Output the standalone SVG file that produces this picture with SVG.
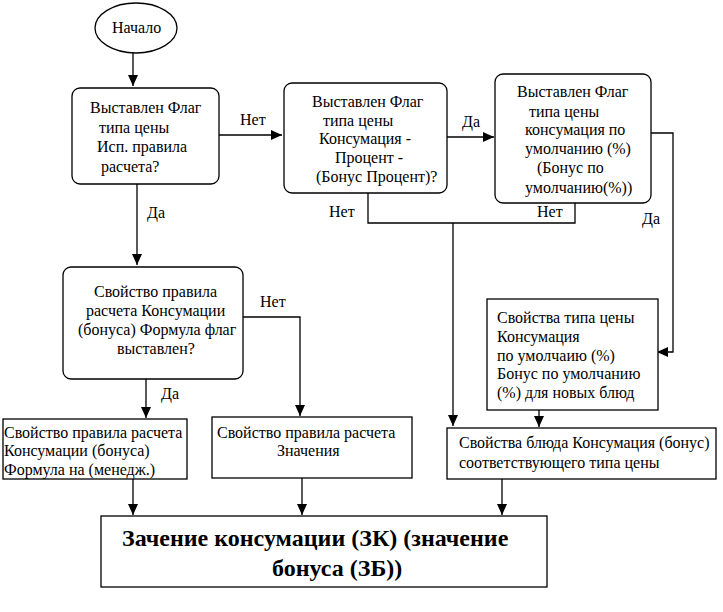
<svg xmlns="http://www.w3.org/2000/svg" width="723" height="612" viewBox="0 0 723 612">
<style>
text{font-size:16px;fill:#000}
.b{font-weight:bold;font-size:24px}
.n{fill:#fff;stroke:#000;stroke-width:1.3}
.c{fill:none;stroke:#000;stroke-width:1.3}
</style>
<defs>
<marker id="a" markerUnits="userSpaceOnUse" markerWidth="12" markerHeight="12" viewBox="0 0 12 12" refX="11" refY="6" orient="auto">
<path d="M0,1 L11,6 L0,11 Z" fill="#000"/>
</marker>
</defs>
<rect width="723" height="612" fill="#fff"/>
<g font-family="'Liberation Serif', 'Times New Roman', serif">
<g id="connectors">
<path class="c" d="M133,53 V86" marker-end="url(#a)"/>
<path class="c" d="M219,135 H282" marker-end="url(#a)"/>
<path class="c" d="M447,137 H494" marker-end="url(#a)"/>
<path class="c" d="M137,184 V265" marker-end="url(#a)"/>
<path class="c" d="M368,193 V223 H575 V203"/>
<path class="c" d="M453,223 V426" marker-end="url(#a)"/>
<path class="c" d="M651,133 H673 V352 H657" marker-end="url(#a)"/>
<path class="c" d="M539,410 V427" marker-end="url(#a)"/>
<path class="c" d="M243,317 H300 V416" marker-end="url(#a)"/>
<path class="c" d="M146,379 V418" marker-end="url(#a)"/>
<path class="c" d="M133,479 V515" marker-end="url(#a)"/>
<path class="c" d="M302,478 V515" marker-end="url(#a)"/>
<path class="c" d="M502,479 V515" marker-end="url(#a)"/>
<text x="240" y="125">Нет</text>
<text x="462" y="127">Да</text>
<text x="147" y="218">Да</text>
<text x="329" y="217">Нет</text>
<text x="537" y="217">Нет</text>
<text x="642" y="224">Да</text>
<text x="260" y="307">Нет</text>
<text x="161" y="399">Да</text>
</g>
<g id="start">
<ellipse class="n" cx="136" cy="28" rx="41" ry="25"/>
<text x="112" y="33">Начало</text>
</g>
<g id="q1">
<rect class="n" x="72" y="88" width="147" height="96" rx="8"/>
<text x="90" y="113">Выставлен Флаг</text>
<text x="99" y="133">типа цены</text>
<text x="97" y="152">Исп. правила</text>
<text x="101" y="172">расчета?</text>
</g>
<g id="q2">
<rect class="n" x="284" y="83" width="163" height="110" rx="8"/>
<text x="312" y="107">Выставлен Флаг</text>
<text x="323" y="126">типа цены</text>
<text x="319" y="144">Консумация -</text>
<text x="335" y="163">Процент -</text>
<text x="316" y="182">(Бонус Процент)?</text>
</g>
<g id="q3">
<rect class="n" x="495" y="74" width="156" height="129" rx="8"/>
<text x="517" y="97">Выставлен Флаг</text>
<text x="529" y="117">типа цены</text>
<text x="525" y="135">консумация по</text>
<text x="525" y="154">умолчанию (%)</text>
<text x="537" y="173">(Бонус по</text>
<text x="525" y="193">умолчанию(%))</text>
</g>
<g id="q4">
<rect class="n" x="63" y="267" width="180" height="112" rx="8"/>
<text x="94" y="297">Свойство правила</text>
<text x="86" y="316">расчета Консумации</text>
<text x="78" y="335">(бонуса) Формула флаг</text>
<text x="117" y="354">выставлен?</text>
</g>
<g id="priceTypeProps">
<rect class="n" x="487" y="299" width="171" height="111"/>
<text x="497" y="323">Свойства типа цены</text>
<text x="497" y="342">Консумация</text>
<text x="497" y="361">по умолчаию (%)</text>
<text x="497" y="379">Бонус по умолчанию</text>
<text x="497" y="398">(%) для новых блюд</text>
</g>
<g id="formulaManager">
<rect class="n" x="3" y="419" width="184" height="60"/>
<text x="4" y="438">Свойство правила расчета</text>
<text x="4" y="456">Консумации (бонуса)</text>
<text x="4" y="475">Формула на (менедж.)</text>
</g>
<g id="ruleValue">
<rect class="n" x="212" y="417" width="200" height="61"/>
<text x="217" y="438">Свойство правила расчета</text>
<text x="277" y="456">Значения</text>
</g>
<g id="dishProps">
<rect class="n" x="447" y="428" width="269" height="51"/>
<text x="459" y="448">Свойства блюда Консумация (бонус)</text>
<text x="459" y="468">соответствующего типа цены</text>
</g>
<g id="result">
<rect class="n" x="101" y="516" width="446" height="71"/>
<text class="b" x="122" y="546">Зачение консумации (ЗК) (значение</text>
<text class="b" x="272" y="576">бонуса (ЗБ))</text>
</g>
</g>
</svg>
